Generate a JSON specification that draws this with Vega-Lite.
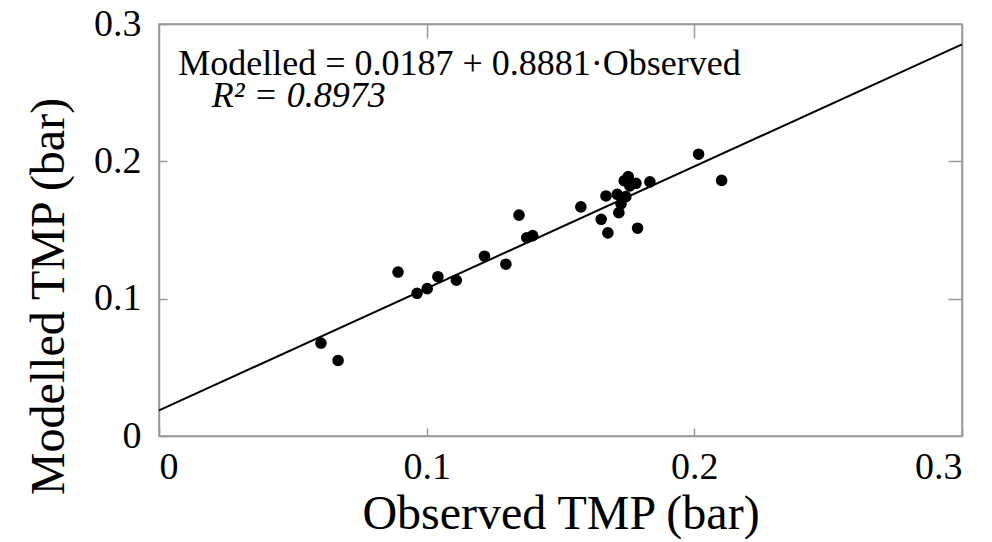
{
  "$schema": "https://vega.github.io/schema/vega-lite/v6.json",
  "autosize": "none",
  "width": 803,
  "height": 412,
  "padding": {"left": 159, "top": 24, "right": 30, "bottom": 106},
  "background": "white",
  "config": {
    "view": {"stroke": "#999999", "strokeWidth": 1.5},
    "font": "Liberation Serif",
    "axis": {
      "domainColor": "#999999",
      "domainWidth": 1.5,
      "tickColor": "#999999",
      "tickWidth": 1.5,
      "grid": false,
      "labelFont": "Liberation Serif",
      "labelColor": "black",
      "labelFontSize": 38,
      "titleFont": "Liberation Serif",
      "titleColor": "black",
      "titleFontSize": 48,
      "titleFontWeight": "normal"
    }
  },
  "datasets": {
    "obs": [
      {"observed": 0.0605, "modelled": 0.0677},
      {"observed": 0.0669, "modelled": 0.0550},
      {"observed": 0.0893, "modelled": 0.1194},
      {"observed": 0.0964, "modelled": 0.1039},
      {"observed": 0.1002, "modelled": 0.1073},
      {"observed": 0.1042, "modelled": 0.1160},
      {"observed": 0.1111, "modelled": 0.1134},
      {"observed": 0.1216, "modelled": 0.1309},
      {"observed": 0.1296, "modelled": 0.1251},
      {"observed": 0.1345, "modelled": 0.1608},
      {"observed": 0.1374, "modelled": 0.1444},
      {"observed": 0.1396, "modelled": 0.1459},
      {"observed": 0.1576, "modelled": 0.1668},
      {"observed": 0.1652, "modelled": 0.1578},
      {"observed": 0.1670, "modelled": 0.1748},
      {"observed": 0.1677, "modelled": 0.1479},
      {"observed": 0.1712, "modelled": 0.1760},
      {"observed": 0.1718, "modelled": 0.1626},
      {"observed": 0.1726, "modelled": 0.1690},
      {"observed": 0.1744, "modelled": 0.1743},
      {"observed": 0.1738, "modelled": 0.1859},
      {"observed": 0.1753, "modelled": 0.1889},
      {"observed": 0.1759, "modelled": 0.1821},
      {"observed": 0.1782, "modelled": 0.1840},
      {"observed": 0.1788, "modelled": 0.1513},
      {"observed": 0.1834, "modelled": 0.1850},
      {"observed": 0.2016, "modelled": 0.2052},
      {"observed": 0.2102, "modelled": 0.1861}
    ],
    "fit": [
      {"observed": 0.0, "modelled": 0.0187},
      {"observed": 0.3, "modelled": 0.28513}
    ],
    "eq": [
      {"observed": 0.0072, "modelled": 0.263, "label": "Modelled = 0.0187 + 0.8881·Observed"}
    ],
    "r2": [
      {"observed": 0.0197, "modelled": 0.2396, "label": "R² = 0.8973"}
    ]
  },
  "resolve": {"axis": {"x": "independent", "y": "independent"}},
  "layer": [
    {
      "data": {"name": "fit"},
      "mark": {"type": "line", "color": "black", "strokeWidth": 2},
      "encoding": {
        "x": {
          "field": "observed", "type": "quantitative",
          "scale": {"domain": [0, 0.3], "nice": false, "zero": true},
          "axis": {"orient": "bottom", "values": [0, 0.1, 0.2, 0.3], "format": "~g", "tickSize": -8, "labelPadding": 20, "title": "Observed TMP (bar)", "titlePadding": 4}
        },
        "y": {
          "field": "modelled", "type": "quantitative",
          "scale": {"domain": [0, 0.3], "nice": false, "zero": true},
          "axis": {"orient": "left", "values": [0, 0.1, 0.2, 0.3], "format": "~g", "tickSize": -8, "labelPadding": 26, "title": "Modelled TMP (bar)", "titlePadding": 20, "titleY": 272}
        }
      }
    },
    {
      "data": {"name": "obs"},
      "mark": {"type": "circle", "color": "black", "opacity": 1, "size": 135},
      "encoding": {
        "x": {
          "field": "observed", "type": "quantitative",
          "axis": {"orient": "top", "values": [0.1, 0.2], "labels": false, "title": null, "tickSize": -14}
        },
        "y": {
          "field": "modelled", "type": "quantitative",
          "axis": {"orient": "right", "values": [0.1, 0.2], "labels": false, "title": null, "tickSize": -14}
        }
      }
    },
    {
      "data": {"name": "eq"},
      "mark": {"type": "text", "align": "left", "baseline": "alphabetic", "font": "Liberation Serif", "fontSize": 36, "color": "black"},
      "encoding": {
        "x": {"field": "observed", "type": "quantitative", "axis": null},
        "y": {"field": "modelled", "type": "quantitative", "axis": null},
        "text": {"field": "label"}
      }
    },
    {
      "data": {"name": "r2"},
      "mark": {"type": "text", "align": "left", "baseline": "alphabetic", "font": "Liberation Serif", "fontSize": 36, "fontStyle": "italic", "color": "black"},
      "encoding": {
        "x": {"field": "observed", "type": "quantitative", "axis": null},
        "y": {"field": "modelled", "type": "quantitative", "axis": null},
        "text": {"field": "label"}
      }
    }
  ]
}
